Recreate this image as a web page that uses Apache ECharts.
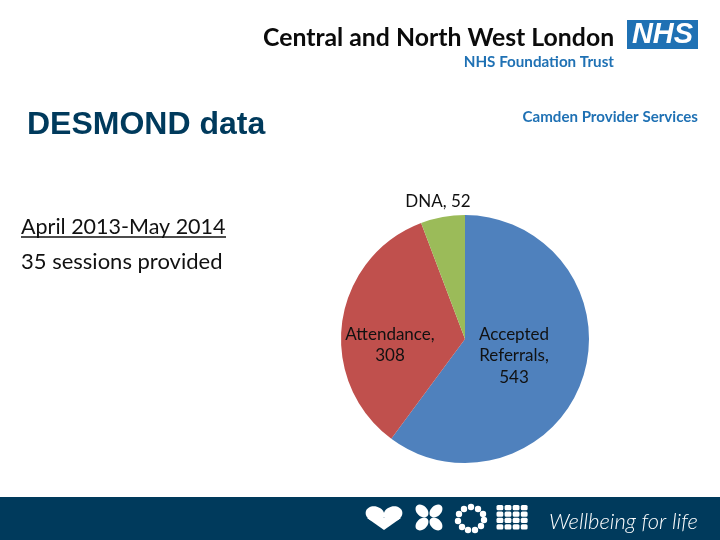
<!DOCTYPE html>
<html>
<head>
<meta charset="utf-8">
<title>DESMOND data</title>
<style>
  html, body { margin: 0; padding: 0; background: #fff; }
  #chart { width: 720px; height: 540px; }
</style>
<script src="https://cdn.jsdelivr.net/npm/echarts@6/dist/echarts.min.js"></script>
</head>
<body>
<div id="chart"></div>
<script>
// chart data
var categories = ['Accepted Referrals', 'Attendance', 'DNA'];
var values = [543, 308, 52];
var sliceColors = ['#4f81bd', '#c0504d', '#9bbb59'];
var labelLines = ['Accepted\nReferrals,\n543', 'Attendance,\n308', 'DNA, 52'];
var labelSpots = [[514, 356], [390, 345], [438, 202]];

var navy = '#003a5c';
var nhsBlue = '#1f71b4';

function txt(x, y, text, size, color, extra) {
  return {
    type: 'text', x: x, y: y, silent: true,
    style: Object.assign({ text: text, fontSize: size, fill: color, fontFamily: 'Lato', textAlign: 'left', textVerticalAlign: 'middle' }, extra || {})
  };
}
function white(shape, type) {
  return { type: type, shape: shape, silent: true, style: { fill: '#fff' } };
}
function petal(x, y, rx, ry, deg) {
  return {
    type: 'ellipse', x: x, y: y, rotation: deg * Math.PI / 180, silent: true,
    shape: { cx: 0, cy: 0, rx: rx, ry: ry }, style: { fill: '#fff' }
  };
}

// footer icons
var icons = [];
// heart
icons.push(petal(375, 514, 9.5, 7.5, -15));
icons.push(petal(393, 514, 9.5, 7.5, 15));
icons.push(white({ points: [[367, 518], [401, 518], [384, 530]] }, 'polygon'));
// four petal flower
[[422, 511, -45], [436, 511, 45], [422, 524, 45], [436, 524, -45]].forEach(function (p) {
  icons.push(petal(p[0], p[1], 7.5, 5.2, p[2]));
});
// ring of dots
[[471, 507], [478, 509], [483, 514], [484, 520], [481, 526], [475, 530], [468, 530], [462, 527], [458, 521], [459, 514], [464, 509]].forEach(function (p) {
  icons.push(white({ cx: p[0], cy: p[1], r: 3.2 }, 'circle'));
});
// grid of tiles
for (var row = 0; row < 4; row++) {
  for (var col = 0; col < 4; col++) {
    icons.push(white({ x: 496.5 + col * 8.1, y: 505 + row * 6.4, width: 6.8, height: 5.3, r: 1.5 }, 'rect'));
  }
}

var graphics = [
  { type: 'rect', shape: { x: 0, y: 497, width: 720, height: 43 }, style: { fill: navy }, silent: true },
  txt(263, 38, 'Central and North West London', 24.8, '#0b0b0b', { fontWeight: 'bold' }),
  { type: 'rect', shape: { x: 627, y: 20, width: 71, height: 29 }, style: { fill: nhsBlue }, silent: true },
  txt(662.5, 35, 'NHS', 29, '#fff', { fontWeight: 'bold', fontStyle: 'italic', fontFamily: 'Liberation Sans', textAlign: 'center' }),
  txt(614, 62, 'NHS Foundation Trust', 15.2, nhsBlue, { fontWeight: 'bold', textAlign: 'right' }),
  txt(698, 117, 'Camden Provider Services', 15.1, nhsBlue, { fontWeight: 'bold', textAlign: 'right' }),
  txt(27, 125, 'DESMOND data', 32, navy, { fontFamily: 'Liberation Sans', fontWeight: 'bold' }),
  txt(21, 227, 'April 2013-May 2014', 21.5, '#111'),
  { type: 'line', shape: { x1: 21, y1: 237, x2: 226, y2: 237 }, style: { stroke: '#111', lineWidth: 1.5 }, silent: true },
  txt(21, 262, '35 sessions provided', 22, '#111'),
  txt(549, 522, 'Wellbeing for life', 22, '#fff', { fontStyle: 'italic', fontWeight: 300 })
].concat(icons);

var pieData = [];
for (var i = 0; i < categories.length; i++) {
  pieData.push({
    name: categories[i],
    value: values[i],
    itemStyle: { color: sliceColors[i] },
    label: { formatter: labelLines[i] }
  });
}

var myChart = echarts.init(document.getElementById('chart'), null, { renderer: 'canvas' });
myChart.setOption({
  animation: false,
  backgroundColor: '#fff',
  graphic: graphics,
  series: [{
    type: 'pie',
    center: [465, 339],
    radius: [0, 124],
    startAngle: 90,
    clockwise: true,
    silent: true,
    data: pieData,
    label: { show: true, position: 'inside', color: '#111', fontFamily: 'Lato', fontSize: 17, lineHeight: 21.5, align: 'center' },
    labelLine: { show: false },
    labelLayout: function (params) {
      var spot = labelSpots[params.dataIndex];
      return { x: spot[0], y: spot[1], align: 'center', verticalAlign: 'middle' };
    }
  }]
});
</script>
</body>
</html>
